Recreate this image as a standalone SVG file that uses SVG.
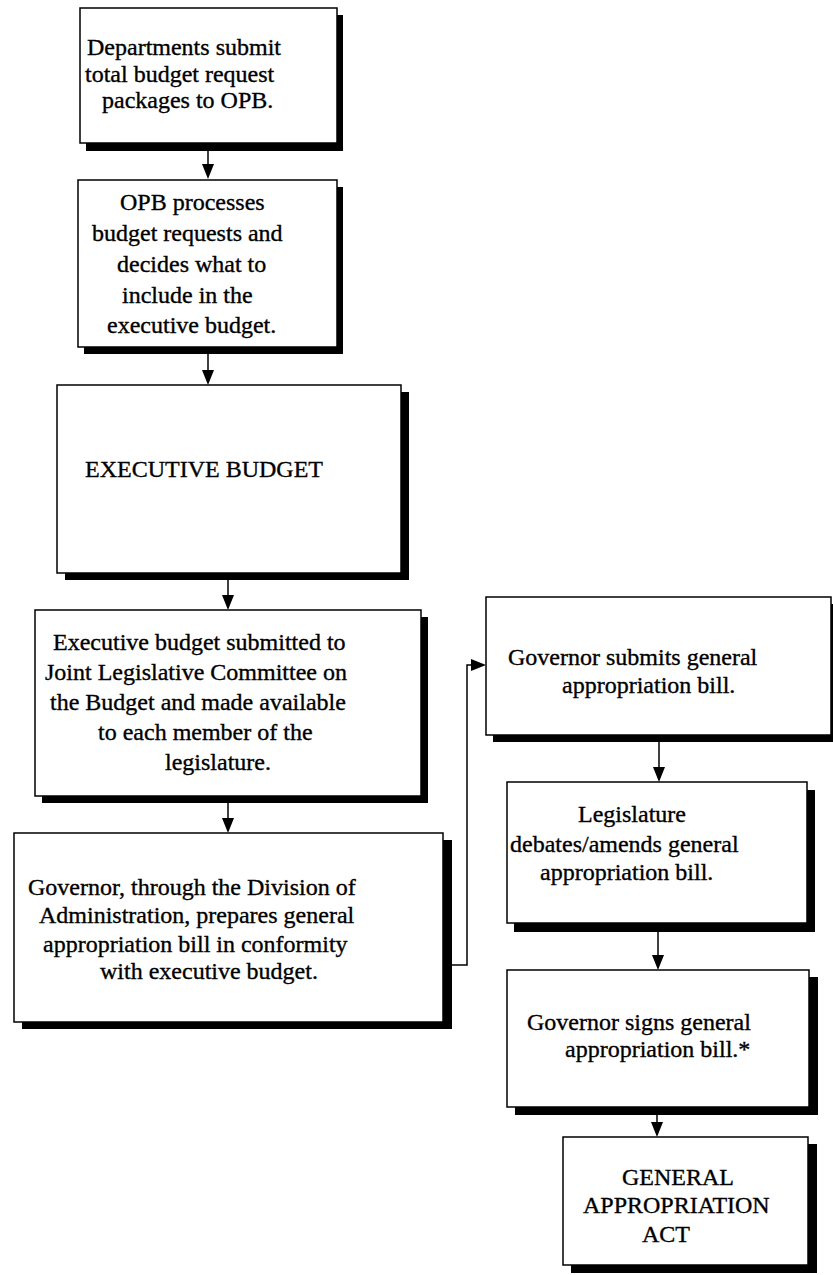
<svg xmlns="http://www.w3.org/2000/svg" width="833" height="1275" viewBox="0 0 833 1275">
<defs>
<style>
.sh{fill:#000}
.bx{fill:#fff;stroke:#000;stroke-width:1.5}
.t{font-family:"Liberation Serif","Times New Roman",serif;font-size:24px;fill:#000;stroke:#000;stroke-width:0.35}
.ln{fill:none;stroke:#000;stroke-width:1.5}
.ah{fill:#000}
</style>
</defs>
<rect width="833" height="1275" fill="#fff"/>
<g id="connectors">
<line class="ln" x1="208" y1="150" x2="208" y2="166"/>
<polygon class="ah" points="202,164 214,164 208,179"/>
<line class="ln" x1="208" y1="353" x2="208" y2="372"/>
<polygon class="ah" points="202,370 214,370 208,385"/>
<line class="ln" x1="228" y1="579" x2="228" y2="597"/>
<polygon class="ah" points="222,595 234,595 228,610"/>
<line class="ln" x1="228" y1="802" x2="228" y2="820"/>
<polygon class="ah" points="222,818 234,818 228,833"/>
<polyline class="ln" points="452,965 467,965 467,665 474,665"/>
<polygon class="ah" points="471,659 471,671 486,665"/>
<line class="ln" x1="659" y1="741" x2="659" y2="769"/>
<polygon class="ah" points="653,767 665,767 659,782"/>
<line class="ln" x1="658" y1="931" x2="658" y2="957"/>
<polygon class="ah" points="652,955 664,955 658,970"/>
<line class="ln" x1="657" y1="1114" x2="657" y2="1124"/>
<polygon class="ah" points="651,1122 663,1122 657,1137"/>
</g>
<g id="n1">
<rect class="sh" x="86" y="15" width="257" height="136"/>
<rect class="bx" x="80" y="8" width="257" height="135"/>
<text class="t" x="87" y="55">Departments submit</text>
<text class="t" x="85" y="82">total budget request</text>
<text class="t" x="102" y="108">packages to OPB.</text>
</g>
<g id="n2">
<rect class="sh" x="84" y="187" width="259" height="167"/>
<rect class="bx" x="78" y="180" width="259" height="167"/>
<text class="t" x="120" y="210">OPB processes</text>
<text class="t" x="92" y="241">budget requests and</text>
<text class="t" x="117" y="272">decides what to</text>
<text class="t" x="122" y="303">include in the</text>
<text class="t" x="107" y="333">executive budget.</text>
</g>
<g id="n3">
<rect class="sh" x="65" y="392" width="344" height="188"/>
<rect class="bx" x="57" y="385" width="344" height="188"/>
<text class="t" x="85" y="477">EXECUTIVE BUDGET</text>
</g>
<g id="n4">
<rect class="sh" x="42" y="617" width="386" height="186"/>
<rect class="bx" x="35" y="610" width="386" height="186"/>
<text class="t" x="53" y="650">Executive budget submitted to</text>
<text class="t" x="45" y="680">Joint Legislative Committee on</text>
<text class="t" x="50" y="710">the Budget and made available</text>
<text class="t" x="98" y="740">to each member of the</text>
<text class="t" x="165" y="770">legislature.</text>
</g>
<g id="n5">
<rect class="sh" x="22" y="840" width="430" height="189"/>
<rect class="bx" x="14" y="833" width="429" height="189"/>
<text class="t" x="28" y="895">Governor, through the Division of</text>
<text class="t" x="39" y="923">Administration, prepares general</text>
<text class="t" x="43" y="952">appropriation bill in conformity</text>
<text class="t" x="100" y="979">with executive budget.</text>
</g>
<g id="n6">
<rect class="sh" x="493" y="604" width="345" height="138"/>
<rect class="bx" x="486" y="597" width="345" height="138"/>
<text class="t" x="508" y="665">Governor submits general</text>
<text class="t" x="562" y="693">appropriation bill.</text>
</g>
<g id="n7">
<rect class="sh" x="514" y="790" width="301" height="142"/>
<rect class="bx" x="507" y="782" width="300" height="141"/>
<text class="t" x="578" y="822">Legislature</text>
<text class="t" x="510" y="852">debates/amends general</text>
<text class="t" x="540" y="880">appropriation bill.</text>
</g>
<g id="n8">
<rect class="sh" x="515" y="977" width="303" height="138"/>
<rect class="bx" x="507" y="970" width="302" height="137"/>
<text class="t" x="527" y="1030">Governor signs general</text>
<text class="t" x="565" y="1057">appropriation bill.*</text>
</g>
<g id="n9">
<rect class="sh" x="571" y="1144" width="246" height="129"/>
<rect class="bx" x="563" y="1137" width="245" height="128"/>
<text class="t" x="622" y="1185">GENERAL</text>
<text class="t" x="583" y="1213">APPROPRIATION</text>
<text class="t" x="642" y="1242">ACT</text>
</g>
</svg>
